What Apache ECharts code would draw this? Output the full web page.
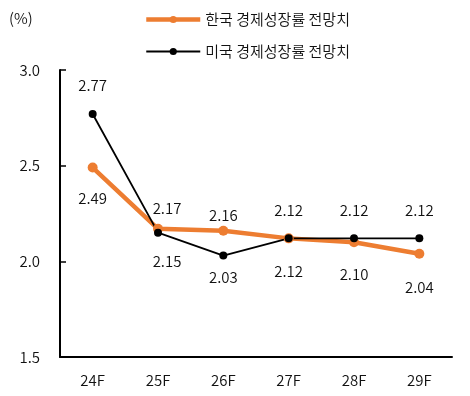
<!DOCTYPE html>
<html>
<head>
<meta charset="utf-8">
<script src="https://cdn.jsdelivr.net/npm/echarts@6/dist/echarts.min.js"></script>
<style>html,body{margin:0;padding:0;background:#fff}#c{width:470px;height:396px}</style>
</head>
<body>
<div id="c"></div>
<script>
const categories = ['24F','25F','26F','27F','28F','29F'];
const koreaName = '한국 경제성장률 전망치';
const usName = '미국 경제성장률 전망치';
const korea = [2.49, 2.17, 2.16, 2.12, 2.10, 2.04];
const us = [2.77, 2.15, 2.03, 2.12, 2.12, 2.12];
const yMin = 1.5, yMax = 3.0, yStep = 0.5;

// label placement (style, kept separate from values)
const koreaLabelPos = ['bottom','top','top','bottom','bottom','bottom'];
const koreaLabelDist = [18, 8, 3, 20, 20, 21];
const usLabelPos = ['top','bottom','bottom','top','top','top'];
const usLabelDist = [17, 17, 10, 17, 17, 17];
const labelDx = [0, 9, 0, 0, 0, 0];

const FONT = "'Noto Sans CJK KR', 'Noto Sans', sans-serif";
const FW = 350;
const TXT = '#111';
const ORANGE = '#ED7D31';

function build(values, pos, dist) {
  return values.map((v, i) => ({
    value: v,
    label: { position: pos[i], distance: dist[i], offset: [labelDx[i], 0] }
  }));
}

const chart = echarts.init(document.getElementById('c'), null, {renderer: 'canvas'});
chart.setOption({
  animation: false,
  backgroundColor: '#fff',
  textStyle: { fontFamily: FONT, fontWeight: FW },
  graphic: [{
    type: 'text', left: 9, top: 11,
    style: { text: '(%)', fontSize: 15, fill: TXT, fontFamily: FONT, fontWeight: FW }
  }],
  legend: {
    orient: 'vertical',
    left: 139, top: 7,
    itemWidth: 54, itemHeight: 9, itemGap: 17,
    textStyle: { fontSize: 15, color: TXT, fontFamily: FONT, fontWeight: FW },
    data: [
      { name: koreaName, lineStyle: { width: 4.5, color: ORANGE }, itemStyle: { color: ORANGE } },
      { name: usName, lineStyle: { width: 2, color: '#000' }, itemStyle: { color: '#000' } }
    ]
  },
  grid: { left: 60, right: 18, top: 70, bottom: 39 },
  xAxis: {
    type: 'category',
    data: categories,
    boundaryGap: true,
    axisLine: { lineStyle: { color: '#000', width: 2 } },
    axisTick: { inside: true, length: 4, lineStyle: { color: '#000', width: 1.5 } },
    axisLabel: { margin: 16, fontSize: 15, color: TXT, fontFamily: FONT, fontWeight: FW }
  },
  yAxis: {
    type: 'value',
    min: yMin, max: yMax, interval: yStep,
    axisLine: { show: true, lineStyle: { color: '#000', width: 2 } },
    axisTick: { show: true, inside: true, length: 6, lineStyle: { color: '#000', width: 1.5 } },
    splitLine: { show: false },
    axisLabel: { margin: 20, fontSize: 15, color: TXT, fontFamily: FONT, fontWeight: FW,
      formatter: v => v.toFixed(1) }
  },
  series: [
    {
      name: koreaName, type: 'line',
      data: build(korea, koreaLabelPos, koreaLabelDist),
      symbol: 'circle', symbolSize: 10,
      lineStyle: { color: ORANGE, width: 4.5 },
      itemStyle: { color: ORANGE },
      label: { show: true, fontSize: 15, color: TXT, fontFamily: FONT, fontWeight: FW,
        formatter: p => p.value.toFixed(2) }
    },
    {
      name: usName, type: 'line',
      data: build(us, usLabelPos, usLabelDist),
      symbol: 'circle', symbolSize: 8,
      lineStyle: { color: '#000', width: 1.8 },
      itemStyle: { color: '#000' },
      label: { show: true, fontSize: 15, color: TXT, fontFamily: FONT, fontWeight: FW,
        formatter: p => p.value.toFixed(2) }
    }
  ]
});
</script>
</body>
</html>
